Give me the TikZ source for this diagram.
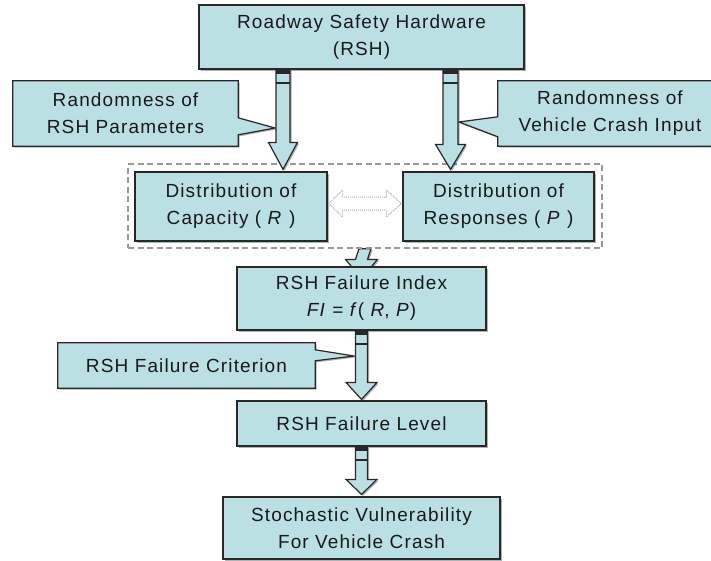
\documentclass[tikz,border=0pt]{standalone}
\usepackage{fontspec}
\setmainfont{Liberation Sans}[LetterSpace=6]
\usetikzlibrary{calc,shadows}
\pgfdeclarelayer{bg}
\pgfsetlayers{bg,main}
\definecolor{boxfill}{RGB}{187,224,227}
\definecolor{boxline}{RGB}{40,40,40}
\definecolor{txtcol}{RGB}{25,25,25}
\newcommand\myblockarrow[5]{%
  \draw[barrow] ($#1+(-#3,0)$) -- ($#1+(#3,0)$) -- ($#2+(#3,-#5)$) -- ($#2+(#4,-#5)$) -- #2
     -- ($#2+(-#4,-#5)$) -- ($#2+(-#3,-#5)$) -- cycle;}
\newcommand\myband[2]{%
  \fill[boxline] ($#1+(-#2,0)$) rectangle ($#1+(#2,4.5)$);
  \draw[boxline, line width=1.8pt] ($#1+(-#2,13.5)$) -- ($#1+(#2,13.5)$);}
\begin{document}
\begin{tikzpicture}[x=1pt,y=-1pt,
  txt/.style={font=\fontsize{19}{27}\selectfont, text=txtcol, align=center, inner sep=0pt, rectangle},
  shad/.style={drop shadow={shadow xshift=1.5pt,shadow yshift=-1.5pt,opacity=0.3,fill=black}},
  box/.style={txt, draw=boxline, fill=boxfill, line width=1.2pt, shad},
  callshape/.style={draw=boxline, fill=boxfill, line width=1.2pt, line join=miter, shad},
  barrow/.style={draw=boxline, fill=boxfill, line width=1.2pt, line join=miter, shad},
  groupbox/.style={draw=gray!80, line width=1.3pt, dash pattern=on 6pt off 3.5pt, rectangle, inner sep=0pt},
  dblarrow/.style={draw=gray!65, fill=white, line width=1pt, densely dotted, line join=miter}]
\useasboundingbox (0,0) rectangle (711,560);

% main boxes
\node[box, minimum width=325pt, minimum height=64pt] (top) at (361.5,37) {Roadway Safety Hardware\\(RSH)};
\node[groupbox, minimum width=474pt, minimum height=84pt] (grp) at (365,206) {};
\node[box, minimum width=192pt, minimum height=69pt] (distL) at (231,206.5) {Distribution of\\Capacity ( \textit{R} )};
\node[box, minimum width=191pt, minimum height=69pt] (distR) at (498.5,206.5) {Distribution of\\Responses ( \textit{P} )};
\node[box, minimum width=249pt, minimum height=63pt] (fi) at (361.5,298.5) {RSH Failure Index\\\textit{FI} = \textit{f}( \textit{R}, \textit{P})};
\node[box, minimum width=249pt, minimum height=45pt] (level) at (361.5,423.5) {RSH Failure Level};
\node[box, minimum width=277pt, minimum height=62pt] (stoch) at (361.5,528) {Stochastic Vulnerability\\For Vehicle Crash};

% callout texts
\node[txt, minimum width=225pt, minimum height=65pt] (callL) at (125.5,113.5) {Randomness of\\RSH Parameters};
\node[txt, minimum width=224pt, minimum height=65pt] (callR) at (610,113.5) {Randomness of\\Vehicle Crash Input};
\node[txt, minimum width=257pt, minimum height=45pt] (crit) at (186.5,365.5) {RSH Failure Criterion};

% connector coordinates
\coordinate (aLs) at ($(top.south)+(-78.5,0)$);
\coordinate (aLt) at ($(distL.north -| aLs)+(0,-2)$);
\coordinate (aRs) at ($(top.south)+(89,0)$);
\coordinate (aRt) at ($(distR.north -| aRs)+(0,-2)$);
\coordinate (gS) at (grp.south);
\coordinate (gT) at ($(fi.north)+(0,12)$);
\coordinate (fS) at (fi.south);
\coordinate (fT) at ($(level.north)+(0,-1)$);
\coordinate (lS) at (level.south);
\coordinate (lT) at ($(stoch.north)+(0,-2)$);
\coordinate (tipL) at (275,128);
\coordinate (tipR) at (459,122);
\coordinate (tipC) at (354,356);

\begin{pgfonlayer}{bg}
  % callout shapes
  \draw[callshape] (callL.north west) -- (callL.north east) -- ($(callL.north east)+(0,37)$) -- (tipL)
     -- ($(callL.north east)+(0,54)$) -- (callL.south east) -- (callL.south west) -- cycle;
  \draw[callshape] (callR.north east) -- (callR.north west) -- ($(callR.north west)+(0,36)$) -- (tipR)
     -- ($(callR.north west)+(0,56)$) -- (callR.south west) -- (callR.south east) -- cycle;
  \draw[callshape] (crit.north west) -- (crit.north east) -- ($(crit.north east)+(0,7)$) -- (tipC)
     -- ($(crit.north east)+(0,18)$) -- (crit.south east) -- (crit.south west) -- cycle;
  % arrow from the group to the failure index box (its tip hidden by the box)
  \myblockarrow{(gS)}{(gT)}{6}{16}{19}
\end{pgfonlayer}

% block arrows
\myblockarrow{(aLs)}{(aLt)}{7}{14.5}{27}
\myband{(aLs)}{7}
\myblockarrow{(aRs)}{(aRt)}{7.5}{15}{25}
\myband{(aRs)}{7.5}
\myblockarrow{(fS)}{(fT)}{6}{15.5}{17}
\myband{(fS)}{6}
\myblockarrow{(lS)}{(lT)}{6}{15.5}{15}
\myband{(lS)}{6}

% double arrow between the distributions
\coordinate (dL) at ($(distL.east)+(1,-3)$);
\coordinate (dR) at ($(distR.west)+(-1,-3)$);
\draw[dblarrow] (dL) -- ($(dL)+(14,-13.5)$) -- ($(dL)+(14,-6.5)$) -- ($(dR)+(-15,-6.5)$)
  -- ($(dR)+(-15,-13.5)$) -- (dR) -- ($(dR)+(-15,13.5)$) -- ($(dR)+(-15,6.5)$)
  -- ($(dL)+(14,6.5)$) -- ($(dL)+(14,13.5)$) -- cycle;
\end{tikzpicture}
\end{document}
